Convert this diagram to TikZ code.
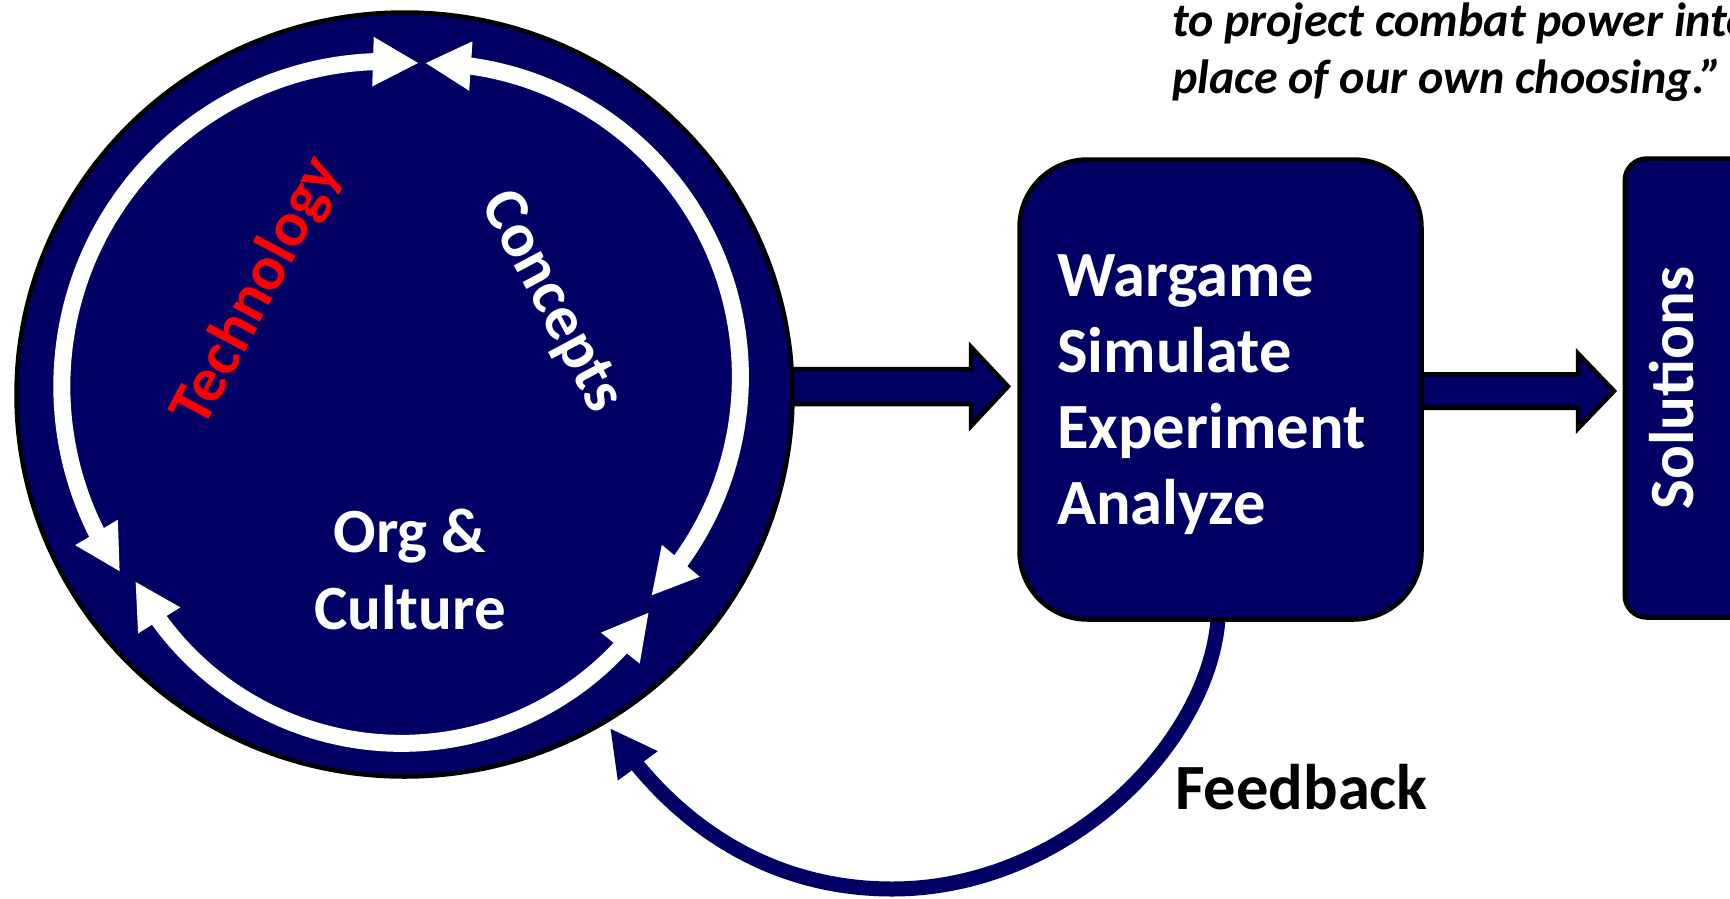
\documentclass[tikz,border=0pt]{standalone}
\usepackage{fontspec}
\setmainfont{Carlito}
\usetikzlibrary{arrows.meta,bending,shapes.geometric,calc}
\definecolor{navy}{RGB}{0,0,100}
\begin{document}
\begin{tikzpicture}[x=1pt,y=-1pt,
  navyfill/.style={fill=navy,draw=black,line width=4.5pt,line join=miter},
  whitearc/.style={draw=white,line width=17pt,
     {Triangle[length=46pt 0 0,width=46pt 0 0]}-{Triangle[length=46pt 0 0,width=46pt 0 0]}},
  lbl/.style={font=\bfseries\fontsize{63}{76}\selectfont,text=white,inner sep=0pt},
  boxlbl/.style={font=\bfseries\fontsize{64.5}{76}\selectfont,text=white,inner sep=0pt,anchor=base west},
  quote/.style={font=\bfseries\itshape\fontsize{48}{57}\selectfont,text=black,inner sep=0pt,anchor=base west},
]
\useasboundingbox (0,0) rectangle (1730,898);
\fill[white] (0,0) rectangle (1730,898);
\clip (0,0) rectangle (1730,898);

% block arrows (drawn first, partly hidden by the shapes)
\coordinate (a1) at (760,386.5);
\draw[navyfill] (a1) ++(0,-17.5) -- ++(211,0) -- ++(0,-22) -- ++(37,39.5) -- ++(-37,39.5) -- ++(0,-22) -- ++(-211,0) -- cycle;
\coordinate (a2) at (1400,391);
\draw[navyfill] (a2) ++(0,-16.75) -- ++(178,0) -- ++(0,-20.75) -- ++(36,37.5) -- ++(-36,37.5) -- ++(0,-20.75) -- ++(-178,0) -- cycle;

% feedback connector
\coordinate (fbend) at (610,728);
\coordinate (fbstart) at (1218,619.5);
\draw[navy,line width=15pt,-{Triangle[length=47pt 0 0,width=46pt 0 0]}]
  (fbstart) .. controls (1208,745) and (1065,889) .. (892,889)
            .. controls (765,889) and (670,820) .. (fbend);

% main shapes
\node[ellipse,navyfill,minimum width=776pt,minimum height=764pt,inner sep=0pt] (circ) at (404.5,394.5) {};
\node[rectangle,rounded corners=68pt,navyfill,minimum width=402pt,minimum height=460pt,inner sep=0pt] (box) at (1220.5,389.5) {};
\node[rectangle,rounded corners=22pt,navyfill,minimum width=200pt,minimum height=459pt,inner sep=0pt,anchor=west] (sol) at (1622.5,388) {};

% white cycle arrows
\draw[whitearc] ([shift={(386.7,386.3)}]-84.3:324.9) arc[start angle=-84.3,end angle=-214.85,radius=324.9];
\draw[whitearc] ([shift={(426.6,376.8)}]-90.3:313.8) arc[start angle=-90.3,end angle=44.3,radius=313.8];
\draw[whitearc] ([shift={(401.3,443.8)}]152.7:299.5) arc[start angle=152.7,end angle=34.2,radius=299.5];

% texts in circle
\node[lbl,text=red,rotate=62] (tech) at (258,292) {Technology};
\node[lbl,rotate=-62] (conc) at (551,302) {Concepts};
\node[lbl,anchor=base] (org1) at (410,552) {Org \&};
\node[lbl,anchor=base] (org2) at (410,629) {Culture};

% texts in box
\node[boxlbl] (w1) at (1057,296) {Wargame};
\node[boxlbl] (w2) at (1057,372) {Simulate};
\node[boxlbl] (w3) at (1057,448) {Experiment};
\node[boxlbl] (w4) at (1057,524) {Analyze};

\node[lbl,rotate=90] (soltxt) at (1672,388) {Solutions};

\node[boxlbl,text=black] (fbtxt) at (1175,809) {Feedback};

% quote
\node[quote] (q1) at (1172,36) {to project combat power into};
\node[quote] (q2) at (1172,93) {place of our own choosing.”};
\end{tikzpicture}
\end{document}
